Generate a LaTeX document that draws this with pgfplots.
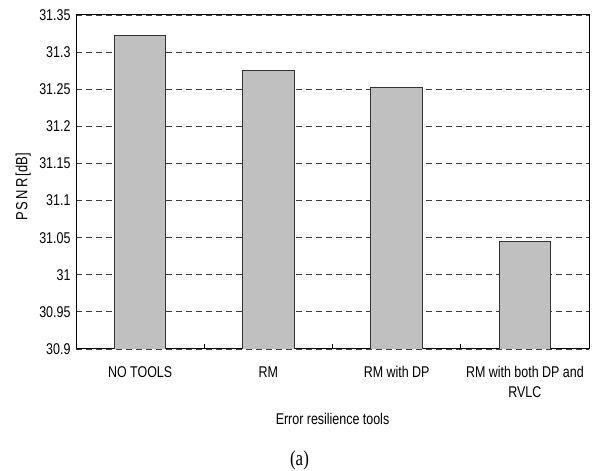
\documentclass[border=0pt]{standalone}
\usepackage{pgfplots}
\pgfplotsset{compat=1.18}
\usepackage{fontspec}
\setmainfont{Liberation Sans}
\newfontfamily\seriffont{Liberation Serif}
\newcommand\vs[1]{\scalebox{1}[1.25]{#1}}
\begin{document}
\begin{tikzpicture}[x=1bp,y=1bp]
\path[use as bounding box] (0,0) rectangle (597,471);
\begin{axis}[
  at={(76bp,122bp)}, anchor=south west,
  scale only axis, width=513bp, height=334bp,
  xmin=-0.5, xmax=3.5, ymin=30.9, ymax=31.35,
  ytick={30.9,30.95,...,31.36},
  yticklabels={\vs{30.9},\vs{30.95},\vs{31},\vs{31.05},\vs{31.1},\vs{31.15},\vs{31.2},\vs{31.25},\vs{31.3},\vs{31.35}},
  ymajorgrids, grid style={black!75, dash pattern=on 6bp off 4bp, line width=0.8bp},
  xtick={0,1,2,3},
  xticklabels={\vs{NO TOOLS}, \vs{RM}, \vs{RM with DP}, {\begin{tabular}{@{}c@{}}\vs{RM with both DP and}\\[4bp]\vs{RVLC}\end{tabular}}},
  xticklabel style={anchor=north, font=\fontsize{12.5}{15}\selectfont, yshift=-14bp},
  minor xtick={0.5,1.5,2.5},
  major tick length=0pt, minor tick length=5bp,
  tick style={black, line width=0.8bp},
  xtick pos=bottom, ytick pos=left,
  yticklabel style={font=\fontsize{12.5}{15}\selectfont, xshift=-2bp},
  axis line style={black, line width=1bp},
  xlabel={\vs{Error resilience tools}},
  xlabel style={font=\fontsize{12.5}{15}\selectfont, at={(axis description cs:0.5,-0.208)}, anchor=center},
  ylabel={\vs{P\,S\,N\,R\,[dB]}},
  ylabel style={font=\fontsize{13}{15}\selectfont, at={(axis description cs:-0.103,0.485)}, anchor=center},
]
\addplot[ybar, bar width=51.5bp, fill={rgb,255:red,192;green,192;blue,192}, draw=black!80, line width=0.9bp, bar shift=0pt]
  coordinates {(0,31.322) (1,31.275) (2,31.253) (3,31.045)};
\end{axis}
\node[font=\seriffont\fontsize{17}{19}\selectfont] at (299.5,11) {\vs{(a)}};
\end{tikzpicture}
\end{document}
